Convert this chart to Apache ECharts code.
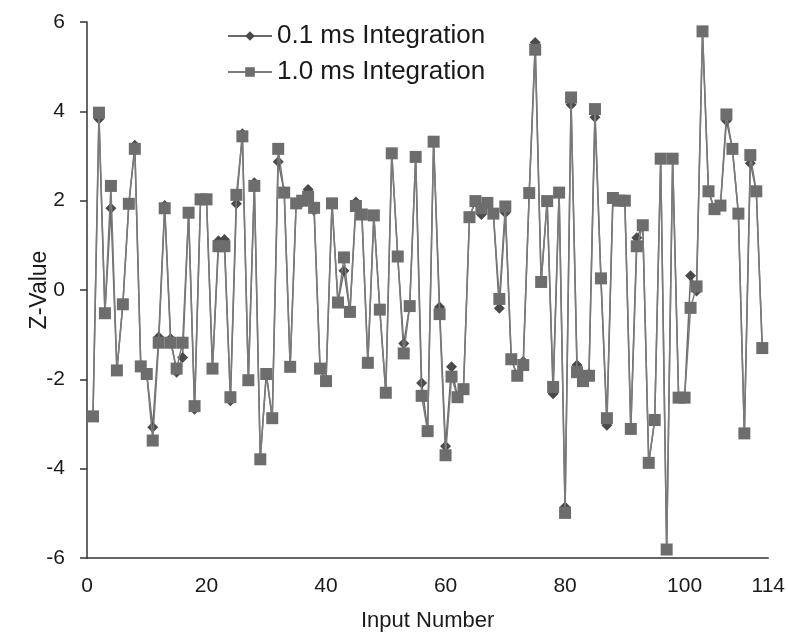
<!DOCTYPE html>
<html>
<head>
<meta charset="utf-8">
<script src="https://cdn.jsdelivr.net/npm/echarts@6/dist/echarts.min.js"></script>
<style>
html,body{margin:0;padding:0;background:#fff;}
#chart{width:788px;height:637px;}
</style>
</head>
<body>
<div id="chart"></div>
<script>
var seriesNames = ['0.1 ms Integration', '1.0 ms Integration'];
var xTickLabels = [0, 20, 40, 60, 80, 100, 114];
var yTicks = [-6, -4, -2, 0, 2, 4, 6];

var z01ms = [
 -2.83, 3.83, -0.50, 1.83, -1.80, -0.32, 1.93, 3.24, -1.71, -1.88,
 -3.07, -1.05, 1.89, -1.09, -1.84, -1.51, 1.73, -2.67, 2.03, 2.03,
 -1.76, 1.10, 1.13, -2.48, 1.93, 3.50, -2.02, 2.40, -3.79, -1.88,
 -2.87, 2.87, 2.20, -1.72, 1.94, 1.97, 2.25, 1.78, -1.76, -2.04,
 1.94, -0.28, 0.43, -0.49, 1.97, 1.69, -1.63, 1.67, -0.44, -2.30,
 3.06, 0.75, -1.20, -0.36, 2.98, -2.08, -3.15, 3.32, -0.38, -3.50,
 -1.72, -2.40, -2.22, 1.63, 1.99, 1.69, 1.95, 1.71, -0.41, 1.73,
 -1.55, -1.92, -1.60, 2.17, 5.54, 0.18, 1.99, -2.32, 2.18, -4.86,
 4.15, -1.68, -2.04, -1.88, 3.87, 0.26, -3.03, 2.06, 2.00, 2.00,
 -3.11, 1.17, 1.45, -3.87, -2.91, 2.94, -5.81, 2.94, -2.41, -2.41,
 0.32, -0.02, 5.79, 2.21, 1.81, 1.89, 3.79, 3.16, 1.71, -3.21,
 2.84, 2.21, -1.30
];

var z10ms = [
 -2.83, 3.97, -0.52, 2.33, -1.80, -0.32, 1.93, 3.16, -1.71, -1.88,
 -3.37, -1.18, 1.83, -1.18, -1.76, -1.18, 1.73, -2.60, 2.03, 2.03,
 -1.76, 0.98, 0.98, -2.40, 2.13, 3.44, -2.02, 2.33, -3.79, -1.88,
 -2.87, 3.16, 2.18, -1.72, 1.94, 2.00, 2.09, 1.84, -1.76, -2.04,
 1.94, -0.28, 0.73, -0.49, 1.88, 1.69, -1.63, 1.67, -0.44, -2.30,
 3.06, 0.75, -1.42, -0.36, 2.98, -2.37, -3.16, 3.32, -0.54, -3.70,
 -1.94, -2.40, -2.22, 1.63, 1.99, 1.83, 1.95, 1.71, -0.20, 1.87,
 -1.55, -1.92, -1.68, 2.17, 5.38, 0.18, 1.99, -2.17, 2.18, -4.99,
 4.31, -1.84, -2.04, -1.92, 4.05, 0.26, -2.87, 2.06, 2.00, 2.00,
 -3.11, 0.98, 1.45, -3.87, -2.91, 2.94, -5.81, 2.94, -2.41, -2.41,
 -0.40, 0.08, 5.79, 2.21, 1.81, 1.89, 3.93, 3.16, 1.71, -3.21,
 3.02, 2.21, -1.30
];

function pairs(arr) {
  return arr.map(function (v, i) { return [i + 1, v]; });
}

var chart = echarts.init(document.getElementById('chart'), null, {renderer: 'canvas'});
var font = '"Liberation Sans", Arial, Helvetica, sans-serif';
chart.setOption({
  animation: false,
  backgroundColor: '#ffffff',
  textStyle: {fontFamily: font},
  legend: {
    orient: 'vertical',
    left: 222,
    top: 18,
    itemWidth: 44,
    itemHeight: 12,
    itemGap: 10,
    textStyle: {fontSize: 26, color: '#1a1a1a', fontFamily: font},
    data: seriesNames
  },
  grid: {left: 87, right: 11, top: 22, bottom: 79, containLabel: false},
  xAxis: {
    type: 'value',
    min: 0,
    max: 114,
    name: 'Input Number',
    nameLocation: 'middle',
    nameGap: 52,
    nameMoveOverlap: false,
    nameTextStyle: {fontSize: 22, color: '#1a1a1a', fontFamily: font},
    axisLine: {show: true, onZero: false, lineStyle: {color: '#333', width: 1.5}},
    axisTick: {show: false},
    splitLine: {show: false},
    axisLabel: {
      customValues: xTickLabels,
      fontSize: 21,
      color: '#1a1a1a',
      margin: 18,
      fontFamily: font
    }
  },
  yAxis: {
    type: 'value',
    min: -6,
    max: 6,
    interval: 2,
    name: 'Z-Value',
    nameLocation: 'middle',
    nameGap: 36,
    nameMoveOverlap: false,
    nameRotate: 90,
    nameTextStyle: {fontSize: 23, color: '#1a1a1a', fontFamily: font},
    axisLine: {show: true, onZero: false, lineStyle: {color: '#333', width: 1.5}},
    axisTick: {show: true, inside: false, length: 7, lineStyle: {color: '#333', width: 1.5}},
    splitLine: {show: false},
    axisLabel: {
      customValues: yTicks,
      fontSize: 21,
      color: '#1a1a1a',
      margin: 22,
      fontFamily: font
    }
  },
  series: [
    {
      name: seriesNames[0],
      type: 'line',
      data: pairs(z01ms),
      symbol: 'diamond',
      symbolSize: 11,
      showAllSymbol: true,
      itemStyle: {color: '#4a4a4a'},
      lineStyle: {color: '#6a6a6a', width: 1.5},
      z: 2
    },
    {
      name: seriesNames[1],
      type: 'line',
      data: pairs(z10ms),
      symbol: 'rect',
      symbolSize: 12,
      showAllSymbol: true,
      itemStyle: {color: '#6d6d6d'},
      lineStyle: {color: '#7a7a7a', width: 1.5},
      z: 3
    }
  ]
});
</script>
</body>
</html>
